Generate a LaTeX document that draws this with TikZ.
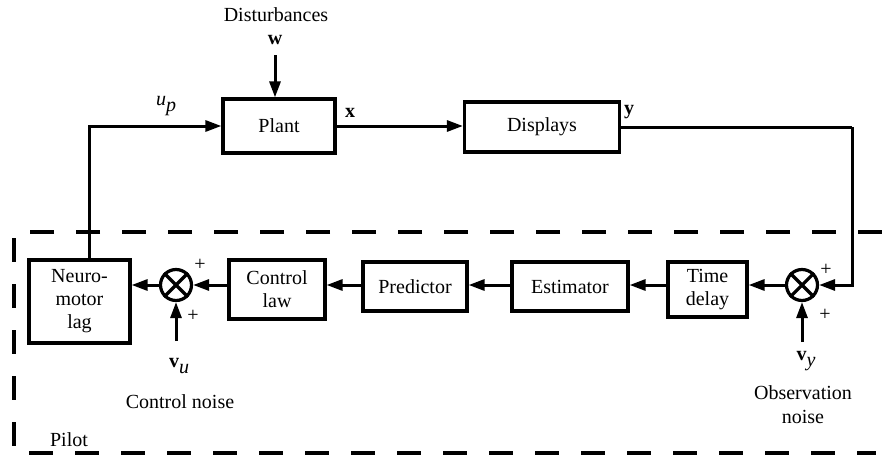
\documentclass[tikz,border=0pt]{standalone}
\usepackage{fontspec}
\setmainfont{Liberation Serif}
\usetikzlibrary{arrows.meta}
\begin{document}
\begin{tikzpicture}[x=1pt,y=-1pt,
  txt/.style={font=\fontsize{20}{23}\selectfont,inner sep=0pt,align=center},
  blk/.style={txt,draw,line width=3.2pt},
  conn/.style={line width=3pt,-{Triangle[length=16pt,width=11pt]}},
  sumj/.style={circle,draw,line width=3.2pt,minimum size=31pt,inner sep=0pt},
  plus/.style={font=\fontsize{20}{20}\selectfont,inner sep=0pt},
  pilotline/.style={line width=3.2pt,dash pattern=on 24pt off 22pt}]
\useasboundingbox (0,0) rectangle (882,463);
% boxes
\node[blk,minimum width=112pt,minimum height=54pt] (plant) at (279,126) {Plant};
\node[blk,minimum width=155pt,minimum height=50pt] (disp) at (542,127) {Displays};
\node[blk,minimum width=101pt,minimum height=83pt] (nml) at (79.5,301.5) {Neuro-\\motor\\lag};
\node[blk,minimum width=96pt,minimum height=59pt] (cl) at (277,289.5) {Control\\law};
\node[blk,minimum width=104pt,minimum height=49pt] (pred) at (415,286.5) {Predictor};
\node[blk,minimum width=116pt,minimum height=49pt] (est) at (570,286.5) {Estimator};
\node[blk,minimum width=79pt,minimum height=55pt] (td) at (707.5,289.5) {Time\\delay};
\node[sumj] (s1) at (176,285) {};
\node[sumj] (s2) at (802,285) {};
\draw[line width=3.2pt] (s1.45)--(s1.225) (s1.135)--(s1.315);
\draw[line width=3.2pt] (s2.45)--(s2.225) (s2.135)--(s2.315);
% labels
\node[txt] (dist) at (276,15) {Disturbances};
\node[txt] (wl) at (275,40) {\textbf{w}};
\node[txt] (upl) at (166,106) {\textit{u}\raisebox{-6pt}{\textit{p}}};
\node[txt] (xl) at (350,113) {\textbf{x}};
\node[txt] (yl) at (629,112) {\textbf{y}};
\node[plus] (p1) at (200,265) {+};
\node[plus] (p2) at (193,316) {+};
\node[plus] (p3) at (826,270) {+};
\node[plus] (p4) at (825,315) {+};
\node[txt] (vul) at (179,366) {\textbf{v}\raisebox{-6pt}{\textit{u}}};
\node[txt] (vyl) at (806,361) {\textbf{v}\raisebox{-6pt}{\textit{y}}};
\node[txt] (cn) at (180,402) {Control noise};
\node[txt,font=\fontsize{20}{24}\selectfont] (on) at (803,405) {Observation\\noise};
\node[txt] (pilot) at (69,440) {Pilot};
% coordinates
\coordinate (wtop) at (275,55);
\coordinate (ycorner) at (852,127);
\coordinate (vuc) at (176,341);
\coordinate (vyc) at (802,342);
% connectors
\draw[conn] (wtop) -- (wtop |- plant.north);
\draw[conn] ([xshift=9.5pt]nml.north) |- (plant.west);
\draw[conn] (plant.east) -- (plant.east -| disp.west);
\draw[line width=3pt] (disp.east) -- (disp.east -| ycorner);
\draw[conn] (disp.east -| ycorner) |- (s2.east);
\draw[conn] (s2.west) -- (s2.west -| td.east);
\draw[conn] (s2.west -| td.west) -- (s2.west -| est.east);
\draw[conn] (s2.west -| est.west) -- (s2.west -| pred.east);
\draw[conn] (s2.west -| pred.west) -- (s2.west -| cl.east);
\draw[conn] (s1.east -| cl.west) -- (s1.east);
\draw[conn] (s1.west) -- (s1.west -| nml.east);
\draw[conn] (vuc) -- (s1.south);
\draw[conn] (vyc) -- (s2.south);
% pilot boundary
\draw[pilotline] (882,232) -- (14,232) -- (14,453) -- (876,453);
\end{tikzpicture}
\end{document}
